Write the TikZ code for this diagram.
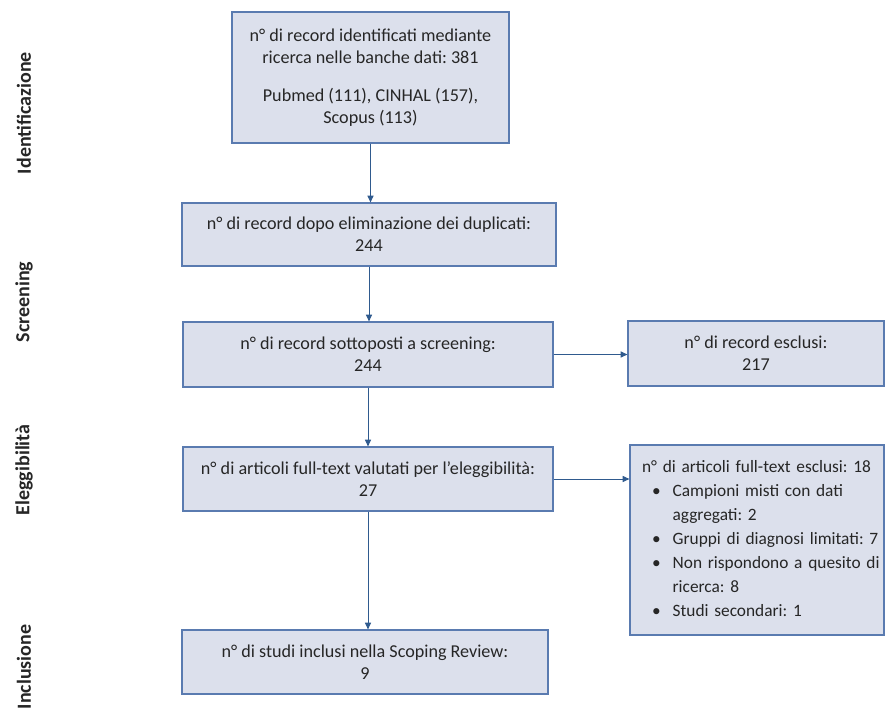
\documentclass[tikz,border=0pt]{standalone}
\usepackage{fontspec}
\setmainfont{Carlito}
\frenchspacing
\usetikzlibrary{arrows.meta,positioning}
\definecolor{boxfill}{HTML}{DCE0EC}
\definecolor{boxline}{HTML}{5A7BB0}
\definecolor{arrowcol}{HTML}{2F5A8E}
\tikzset{
  blocco/.style={draw=boxline,fill=boxfill,line width=0.9pt,align=center,inner sep=2pt,
    text=black!85,font=\fontsize{13.6}{16.5}\selectfont},
  freccia/.style={draw=arrowcol,line width=0.7pt,-{Triangle[length=5pt,width=4.5pt]}},
  fase/.style={rotate=90,text=black!85,font=\bfseries\fontsize{15}{17}\selectfont},
}

\begin{document}
\begin{tikzpicture}[x=0.75pt,y=-0.75pt]
  \useasboundingbox (0,0) rectangle (885,711);
  \clip (0,0) rectangle (885,711);
  % fasi
  \node[fase] (fid) at (24,113) {Identificazione};
  \node[fase] (fsc) at (24,302) {Screening};
  \node[fase] (fel) at (24,470) {Eleggibilità};
  \node[fase] (fin) at (24,667) {Inclusione};
  % colonna principale
  \node[blocco,minimum width=207.75pt,minimum height=98.25pt] (b1) at (370.5,77.5)
    {n° di record identificati mediante\\ricerca nelle banche dati: 381\\[12pt]
     Pubmed (111), CINHAL (157),\\Scopus (113)};
  \node[blocco,minimum width=280.5pt,minimum height=47.25pt] (b2) at (369,234.5)
    {n° di record dopo eliminazione dei duplicati:\\244};
  \node[blocco,minimum width=277.5pt,minimum height=48.75pt] (b3) at (368,354.5)
    {n° di record sottoposti a screening:\\244};
  \node[blocco,minimum width=277.5pt,minimum height=48pt] (b5) at (368,479)
    {n° di articoli full-text valutati per l’eleggibilità:\\27};
  \node[blocco,minimum width=274.5pt,minimum height=48pt] (b7) at (365,662)
    {n° di studi inclusi nella Scoping Review:\\9};
  % esclusi
  \node[blocco,minimum width=192pt,minimum height=48.75pt] (b4) at (756,353.5)
    {n° di record esclusi:\\217};
  \node[blocco,text width=172.5pt,inner xsep=9pt,minimum height=142.5pt,align=left,
    font=\fontsize{13}{18}\selectfont] (b6) at (757,540)
    {\begin{tabular}{@{}l@{}}
     n° di articoli full-text esclusi: 18\\
     \hspace{7.5pt}\makebox[15.5pt][l]{\textbullet}Campioni misti con dati\\
     \hspace{23pt}aggregati: 2\\
     \hspace{7.5pt}\makebox[15.5pt][l]{\textbullet}Gruppi di diagnosi limitati: 7\\
     \hspace{7.5pt}\makebox[15.5pt][l]{\textbullet}Non rispondono a quesito di\\
     \hspace{23pt}ricerca: 8\\
     \hspace{7.5pt}\makebox[15.5pt][l]{\textbullet}Studi secondari: 1
     \end{tabular}};
  % frecce
  \draw[freccia] (b1.south) -- (b1.south |- b2.north);
  \draw[freccia] (b2.south) -- (b2.south |- b3.north);
  \draw[freccia] (b3.south) -- (b3.south |- b5.north);
  \draw[freccia] (b5.south) -- (b5.south |- b7.north);
  \draw[freccia] (b3.east) -- (b3.east -| b4.west);
  \draw[freccia] (b5.east) -- (b5.east -| b6.west);
\end{tikzpicture}
\end{document}
